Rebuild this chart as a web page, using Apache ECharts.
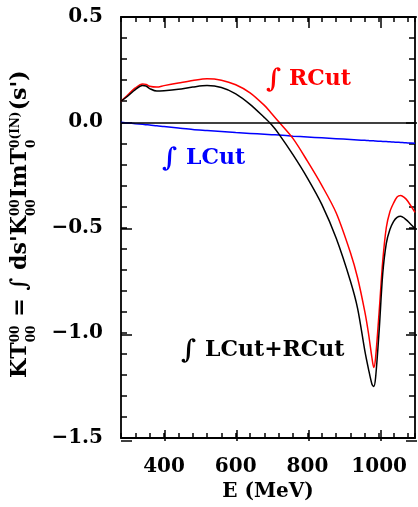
<!DOCTYPE html>
<html><head><meta charset="utf-8">
<script src="https://cdn.jsdelivr.net/npm/echarts@6/dist/echarts.min.js"></script>
<style>html,body{margin:0;padding:0;background:#fff}#c{width:418px;height:507px}</style>
</head><body><div id="c"></div>
<script>
// E (MeV) grid
const energies = [280,300,320,340,350,360,380,400,440,480,520,560,600,640,680,700,720,760,800,840,880,920,940,960,970,980,985,990,1000,1010,1020,1030,1040,1050,1060,1070,1080,1100];
// ∫ RCut (red)
const rcut = [0.100,0.132,0.163,0.182,0.180,0.171,0.167,0.174,0.186,0.198,0.207,0.200,0.178,0.140,0.080,0.042,0.002,-0.078,-0.185,-0.300,-0.430,-0.620,-0.740,-0.900,-1.000,-1.120,-1.165,-1.120,-0.900,-0.660,-0.500,-0.425,-0.385,-0.355,-0.348,-0.357,-0.375,-0.428];
// ∫ LCut+RCut (black)
const total = [0.100,0.126,0.155,0.174,0.172,0.160,0.148,0.150,0.157,0.167,0.174,0.165,0.135,0.085,0.022,-0.012,-0.055,-0.155,-0.265,-0.390,-0.550,-0.755,-0.885,-1.085,-1.170,-1.245,-1.255,-1.215,-0.990,-0.720,-0.575,-0.510,-0.472,-0.452,-0.447,-0.455,-0.470,-0.505];
// ∫ LCut (blue)
const lcut = [0,-0.0035,-0.007,-0.010,-0.012,-0.013,-0.017,-0.020,-0.027,-0.034,-0.039,-0.044,-0.049,-0.053,-0.057,-0.059,-0.061,-0.066,-0.070,-0.074,-0.078,-0.082,-0.084,-0.086,-0.087,-0.088,-0.088,-0.089,-0.090,-0.091,-0.092,-0.093,-0.094,-0.095,-0.096,-0.097,-0.098,-0.100];
// tick labels
const xMajorTicks = [400,600,800,1000];
const yMajorTicks = [-1.5,-1.0,-0.5,0.0,0.5];

const FONT = '"DejaVu Serif", serif';
const chart = echarts.init(document.getElementById('c'), null, {renderer:'canvas'});
function pairs(v){ return energies.map((e,i)=>[e, v[i]]); }
const LS = {color:'#000', width:1.8};
const TS = {color:'#000', width:1.5};
const near = (v, arr) => arr.some(a => Math.abs(a - v) < 1e-6);
const fmtY = v => (v < -1e-9 ? '\u2212' : '') + Math.abs(v).toFixed(1);
const LBL = {color:'#000', fontFamily:FONT, fontSize:20, fontWeight:'bold'};
const XMIN = 280, XMAX = 1100, YMIN = -1.5, YMAX = 0.5;

function xAxisDef(pos, gi, min, max, interval, len, line, labels){
  return {type:'value', gridIndex:gi, position:pos, min:min, max:max, interval:interval,
    axisLine:{show:line, onZero:false, lineStyle:LS},
    axisTick:{show:true, inside:true, length:len, lineStyle:TS},
    axisLabel: labels ? Object.assign({show:true, margin:19, formatter:v => near(v, xMajorTicks) ? String(v) : ''}, LBL) : {show:false},
    splitLine:{show:false},
    name: labels ? 'E (MeV)' : '', nameLocation:'middle', nameGap:44, nameTextStyle:LBL};
}
function yAxisDef(pos, gi, interval, len, line, labels){
  return {type:'value', gridIndex:gi, position:pos, min:YMIN, max:YMAX, interval:interval,
    axisLine:{show:line, onZero:false, lineStyle:LS},
    axisTick:{show:true, inside:true, length:len, lineStyle:TS},
    axisLabel: labels ? Object.assign({show:true, margin:18, formatter:v => near(v, yMajorTicks) ? fmtY(v) : ''}, LBL) : {show:false},
    splitLine:{show:false}};
}
const hiddenX = gi => ({type:'value', gridIndex:gi, min:XMIN, max:XMAX, show:false});
const hiddenY = gi => ({type:'value', gridIndex:gi, min:YMIN, max:YMAX, show:false});

// plot frame in pixels
const G_LEFT = 121, G_RIGHT = 1, G_TOP = 17, G_BOTTOM = 66, W = 418;
const pxPerE = (W - G_LEFT - G_RIGHT) / (XMAX - XMIN);
const majLeft = G_LEFT + (xMajorTicks[0] - XMIN) * pxPerE;
const majWidth = (xMajorTicks[xMajorTicks.length-1] - xMajorTicks[0]) * pxPerE;

// y-axis title laid out as rotated pieces
const ctx = document.createElement('canvas').getContext('2d');
function w(t, s){ ctx.font = 'bold ' + s + 'px ' + FONT; return ctx.measureText(t).width; }
const pieces = [
  {t:'KT'}, {sup:'00', sub:'00'}, {t:' = '}, {t:'\u222B'}, {t:" ds'K"}, {sup:'00', sub:'00'},
  {t:'Im'}, {t:'T'}, {sup:'0(IN)', sub:'0'}, {t:"(s')"}
];
const M0 = 21, S0 = 11.5; let L = 0;
pieces.forEach(p => { L += p.t ? w(p.t, M0) : Math.max(w(p.sup, S0), w(p.sub, S0)) + 1; });
const k = 308 / L, M = M0*k, S = S0*k;
const kids = []; let u = 0;
function tx(x, y, t, s){ return {type:'text', x:x, y:y, style:{text:t, font:'bold '+s+'px '+FONT, fill:'#000', align:'left', verticalAlign:'middle'}}; }
pieces.forEach(p => {
  if (p.t) { kids.push(tx(u, 0, p.t, M)); u += w(p.t, M); }
  else {
    kids.push(tx(u, -4.5, p.sup, S)); kids.push(tx(u, 11, p.sub, S));
    u += Math.max(w(p.sup, S), w(p.sub, S)) + 1*k;
  }
});
function lbl(x, y, text, color, size){
  return {type:'text', x:x, y:y, style:{text:text, font:'bold '+size+'px '+FONT, fill:color, align:'left', verticalAlign:'middle'}};
}

const G = {left:G_LEFT, right:G_RIGHT, top:G_TOP, bottom:G_BOTTOM};
chart.setOption({
  animation:false,
  grid:[Object.assign({}, G), Object.assign({}, G),
        {left:majLeft, width:majWidth, top:G_TOP, bottom:G_BOTTOM}],
  xAxis:[
    xAxisDef('bottom', 0, XMIN, XMAX, 40, 5, true, true),
    xAxisDef('top', 0, XMIN, XMAX, 40, 5, true, false),
    hiddenX(1),
    xAxisDef('bottom', 2, xMajorTicks[0], xMajorTicks[xMajorTicks.length-1], 200, 11, false, false),
    xAxisDef('top', 2, xMajorTicks[0], xMajorTicks[xMajorTicks.length-1], 200, 11, false, false)
  ],
  yAxis:[
    yAxisDef('left', 0, 0.1, 6, true, true),
    yAxisDef('right', 0, 0.1, 6, true, false),
    yAxisDef('left', 1, 0.5, 11, false, false),
    yAxisDef('right', 1, 0.5, 11, false, false),
    hiddenY(2)
  ],
  series:[
    {type:'line', data:pairs(lcut), symbol:'none', smooth:0.3, lineStyle:{color:'#0000ff', width:1.5}, z:3,
     markLine:{silent:true, symbol:'none', label:{show:false}, lineStyle:{color:'#000', width:1.5, type:'solid'}, data:[{yAxis:0}]}},
    {type:'line', data:pairs(rcut), symbol:'none', smooth:0.3, lineStyle:{color:'#ff0000', width:1.5}, z:4},
    {type:'line', data:pairs(total), symbol:'none', smooth:0.3, lineStyle:{color:'#000000', width:1.5}, z:5}
  ],
  graphic:[
    {type:'group', x:20.5, y:378, rotation:Math.PI/2, children:kids},
    lbl(266, 80, '\u222B', '#ff0000', 26), lbl(289, 79, 'RCut', '#ff0000', 22),
    lbl(162, 159, '\u222B', '#0000ff', 26), lbl(186, 158, 'LCut', '#0000ff', 22),
    lbl(181, 351, '\u222B', '#000', 26), lbl(205, 350, 'LCut+RCut', '#000', 22)
  ]
});
</script></body></html>
